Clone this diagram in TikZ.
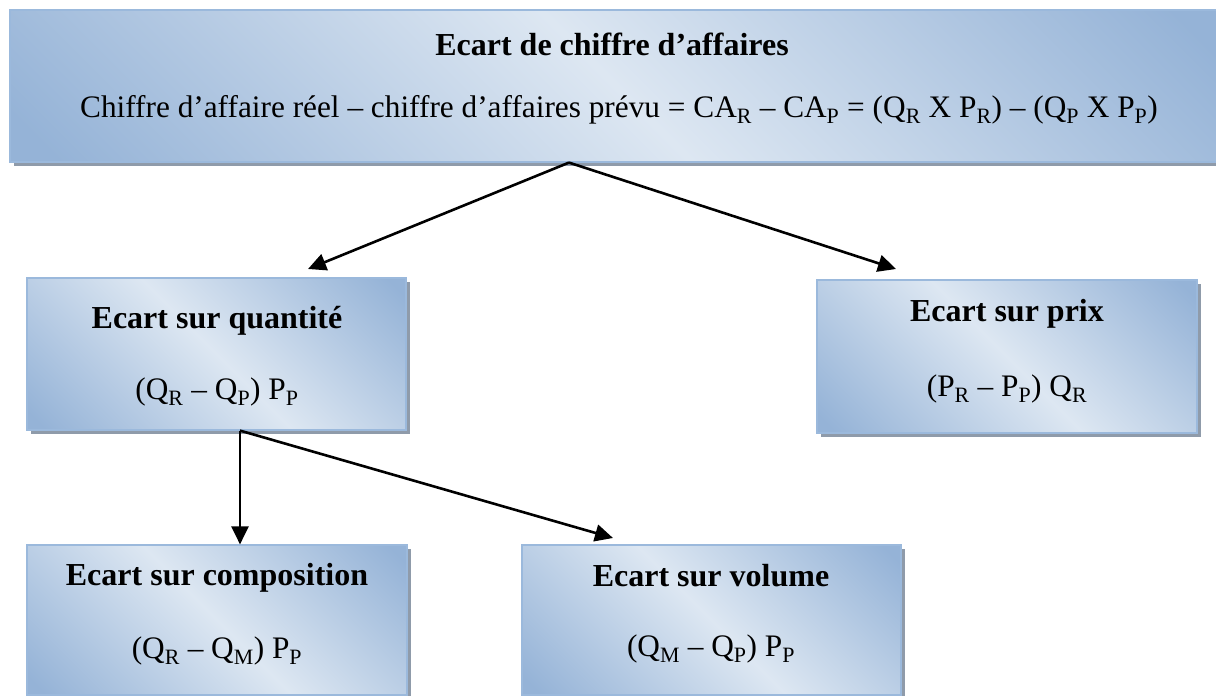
\documentclass[tikz,border=0pt]{standalone}
\usepackage{fontspec}
\setmainfont{Liberation Serif}
\usetikzlibrary{arrows.meta,shadows}
\definecolor{dk}{RGB}{149,179,215}
\definecolor{lt}{RGB}{221,231,242}
\definecolor{bd}{RGB}{155,185,220}
\definecolor{sh}{RGB}{143,155,170}
\pgfdeclarehorizontalshading{wordgrad}{100bp}{color(0bp)=(dk); color(17bp)=(dk); color(50bp)=(lt); color(83bp)=(dk); color(100bp)=(dk)}
\tikzset{
  box/.style={draw=bd, line width=1.2pt, shading=wordgrad, shading angle=45, inner sep=0pt,
    drop shadow={shadow xshift=4pt, shadow yshift=-4pt, fill=sh, opacity=1}},
  ttl/.style={font=\fontsize{32}{38}\selectfont\bfseries, inner sep=0pt},
  frm/.style={font=\fontsize{31.3}{36}\selectfont, inner sep=0pt},
  arr/.style={line width=2.6pt, -{Triangle[length=18pt,width=17pt]}},
}
\begin{document}
\begin{tikzpicture}[x=1pt,y=-1pt]
\useasboundingbox (0,0) rectangle (1216,696);
\clip (0,0) rectangle (1216,696);
% boxes
\node[box, minimum width=1212pt, minimum height=152pt] (top) at (616,86) {};
\node[box, minimum width=379pt, minimum height=152pt] (quant) at (216.5,354) {};
\node[box, minimum width=380pt, minimum height=153pt] (prix) at (1007,356.5) {};
\node[box, minimum width=380pt, minimum height=150pt] (comp) at (217,620) {};
\node[box, minimum width=379pt, minimum height=150pt] (vol) at (711.5,620) {};
% texts
\node[ttl] (toptitle) at (612,44) {Ecart de chiffre d’affaires};
\node[frm] (topform) at (619,110) {Chiffre d’affaire réel – chiffre d’affaires prévu = CA\textsubscript{R} – CA\textsubscript{P} = (Q\textsubscript{R} X P\textsubscript{R}) – (Q\textsubscript{P} X P\textsubscript{P})};
\node[ttl] (quanttitle) at (217,321) {Ecart sur quantité};
\node[frm] (quantform) at (217,392) {(Q\textsubscript{R} – Q\textsubscript{P}) P\textsubscript{P}};
\node[ttl] (prixtitle) at (1007,314) {Ecart sur prix};
\node[frm] (prixform) at (1007,389) {(P\textsubscript{R} – P\textsubscript{P}) Q\textsubscript{R}};
\node[ttl] (comptitle) at (217,578) {Ecart sur composition};
\node[frm] (compform) at (217,651) {(Q\textsubscript{R} – Q\textsubscript{M}) P\textsubscript{P}};
\node[ttl] (voltitle) at (711,576) {Ecart sur volume};
\node[frm] (volform) at (711,649) {(Q\textsubscript{M} – Q\textsubscript{P}) P\textsubscript{P}};
% arrows
\coordinate (a1) at (308,269);
\coordinate (a2) at (896,269);
\coordinate (a3) at (613,538);
\draw[arr] ([xshift=-47pt]top.south) -- (a1);
\draw[arr] ([xshift=-47pt]top.south) -- (a2);
\draw[arr] ([xshift=23.5pt]quant.south) -- ([xshift=23pt]comp.north);
\draw[arr] ([xshift=23.5pt]quant.south) -- (a3);
\end{tikzpicture}
\end{document}
